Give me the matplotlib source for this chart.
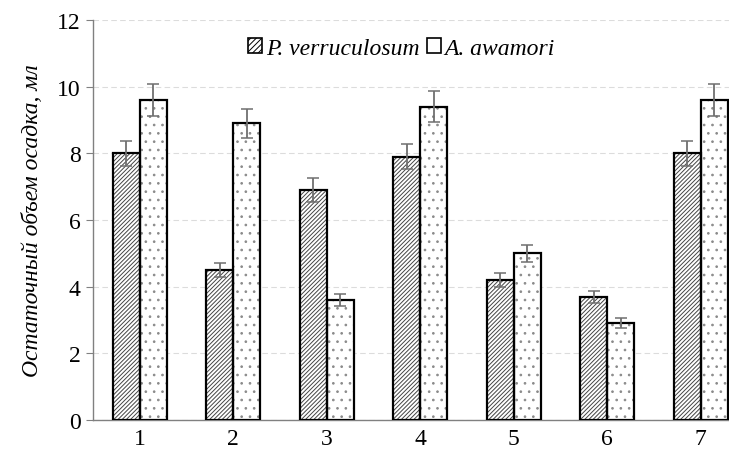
import numpy as np
import matplotlib.pyplot as plt

# data
categories = ["1", "2", "3", "4", "5", "6", "7"]
p_verr = [8.0, 4.5, 6.9, 7.9, 4.2, 3.7, 8.0]
a_awam = [9.6, 8.9, 3.6, 9.4, 5.0, 2.9, 9.6]
p_err = [0.38, 0.22, 0.35, 0.38, 0.2, 0.18, 0.38]
a_err = [0.48, 0.44, 0.18, 0.46, 0.25, 0.15, 0.48]

plt.rcParams["font.family"] = "serif"
plt.rcParams["font.serif"] = ["Liberation Serif", "DejaVu Serif"]
plt.rcParams["hatch.linewidth"] = 0.7

fig = plt.figure(figsize=(7.29, 4.52), dpi=100)
ax = fig.add_axes([93 / 729, 31 / 452, (729 - 93) / 729, 400 / 452])

x = np.arange(1, len(categories) + 1)
w = 0.29

# fill textures first (grey hatch), then black outlines on top
ax.bar(x - w / 2, p_verr, w, color="white", edgecolor="#444444", hatch="////////",
       linewidth=0, zorder=3)
ax.bar(x + w / 2, a_awam, w, color="white", edgecolor="#8a8a8a", hatch="..",
       linewidth=0, zorder=3)
ax.bar(x - w / 2, p_verr, w, fill=False, edgecolor="black", linewidth=1.6, zorder=3.5)
ax.bar(x + w / 2, a_awam, w, fill=False, edgecolor="black", linewidth=1.6, zorder=3.5)

ax.errorbar(x - w / 2, p_verr, yerr=p_err, fmt="none", ecolor="#6f6f6f",
            elinewidth=1.3, capsize=4.5, capthick=1.1, zorder=4)
ax.errorbar(x + w / 2, a_awam, yerr=a_err, fmt="none", ecolor="#6f6f6f",
            elinewidth=1.3, capsize=4.5, capthick=1.1, zorder=4)

# legend proxies
h1 = plt.Rectangle((0, 0), 1, 1, facecolor="white", edgecolor="black", hatch="//////", lw=1.2)
h2 = plt.Rectangle((0, 0), 1, 1, facecolor="white", edgecolor="black", lw=1.2)

ax.set_xlim(0.5, 0.5 + (729 - 93) / 93.5)
ax.set_ylim(0, 12)
ax.set_yticks(range(0, 13, 2))
ax.set_xticks(x)
ax.set_xticklabels(categories)
ax.yaxis.grid(True, linestyle=(0, (5, 3)), color="#dcdcdc", linewidth=0.8, zorder=0)

for s in ["top", "right"]:
    ax.spines[s].set_visible(False)
for s in ["left", "bottom"]:
    ax.spines[s].set_color("#808080")
    ax.spines[s].set_linewidth(1.0)
ax.tick_params(axis="y", length=5, color="#808080", labelsize=17, pad=4)
ax.tick_params(axis="x", length=0, labelsize=17, pad=6)

ax.set_ylabel("Остаточный объем осадка, мл", fontsize=17, style="italic", labelpad=10)

ax.legend([h1, h2], ["P. verruculosum", "A. awamori"], loc="center",
          bbox_to_anchor=(0.485, 0.928), ncol=2, frameon=False,
          prop={"style": "italic", "size": 17}, handlelength=0.6, handleheight=0.6,
          handletextpad=0.15, columnspacing=0.3)

fig.savefig("out.png", dpi=100)
